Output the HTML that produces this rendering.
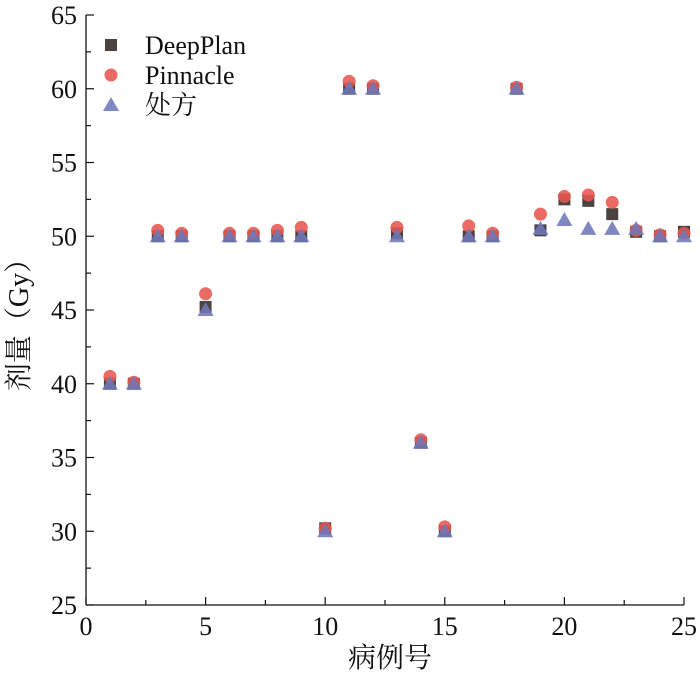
<!DOCTYPE html>
<html><head><meta charset="utf-8"><style>
body{margin:0;background:#fff;}
svg text{font-family:"Liberation Serif","Noto Serif CJK SC",serif;fill:#111;}
</style></head><body>
<svg id="chart" width="700" height="673" xmlns="http://www.w3.org/2000/svg">
<g id="axes"></g><g id="marks"></g><g id="legend"></g>
</svg>
<script>
const cases=[1,2,3,4,5,6,7,8,9,10,11,12,13,14,15,16,17,18,19,20,21,22,23,24,25];
const deepPlan=[40,40,50,50,45.2,50,50,50,50,30.2,60,60,50.2,36,30,50,50,60,50.4,52.5,52.4,51.5,50.3,50,50.3];
const pinnacle=[40.5,40.1,50.4,50.2,46.1,50.2,50.2,50.4,50.6,30.2,60.5,60.2,50.6,36.2,30.3,50.7,50.2,60.1,51.5,52.7,52.8,52.3,50.4,50.1,50.2];
const prescription=[40,40,50,50,45,50,50,50,50,30,60,60,50,36,30,50,50,60,50.5,51.1,50.5,50.5,50.5,50,50];
const xTicks=[0,5,10,15,20,25];
const yTicks=[25,30,35,40,45,50,55,60,65];
const X0=86,X1=684,Y0=605,Y1=15;
const sx=v=>X0+(v-0)/25*(X1-X0);
const sy=v=>Y0-(v-25)/40*(Y0-Y1);
const NS="http://www.w3.org/2000/svg";
function mk(p,tag,at){const e=document.createElementNS(NS,tag);for(const k in at)e.setAttribute(k,at[k]);p.appendChild(e);return e;}
const axes=document.getElementById('axes'),marks=document.getElementById('marks'),legend=document.getElementById('legend');
let a=mk(axes,'line',{x1:X0,y1:Y0,x2:X1,y2:Y0,stroke:'#111','stroke-width':1.3});


a=mk(axes,'line',{x1:X0,y1:Y0,x2:X0,y2:Y1,stroke:'#111','stroke-width':1.3});


for(let v=0;v<=25;v+=2.5){const maj=v%5===0;mk(axes,'line',{x1:sx(v),y1:Y0,x2:sx(v),y2:Y0-(maj?8:5),stroke:'#111','stroke-width':1.2});}
for(let v=25;v<=65;v+=2.5){const maj=v%5===0;mk(axes,'line',{x1:X0,y1:sy(v),x2:X0+(maj?8:5),y2:sy(v),stroke:'#111','stroke-width':1.2});}
xTicks.forEach(v=>{const t=mk(axes,'text',{x:sx(v),y:Y0+30,'text-anchor':'middle','font-size':26});t.textContent=v;

});
yTicks.forEach(v=>{const t=mk(axes,'text',{x:X0-9,y:sy(v)+9,'text-anchor':'end','font-size':26});t.textContent=v;

});
let t=mk(axes,'text',{x:(X0+X1)/2+5,y:667,'text-anchor':'middle','font-size':28});t.textContent='病例号';


t=mk(axes,'text',{x:0,y:0,'text-anchor':'middle','font-size':28,transform:'translate(28,318) rotate(-90)'});t.textContent='剂量（Gy）';


function sq(p,x,y){return mk(p,'rect',{x:x-6,y:y-6,width:12,height:12,fill:'#4a4340'});}
function ci(p,x,y){return mk(p,'circle',{cx:x,cy:y,r:6.5,fill:'#e8564e','fill-opacity':0.88});}
function tr(p,x,y){return mk(p,'polygon',{points:`${x},${y-8} ${x-8},${y+6} ${x+8},${y+6}`,fill:'#6f78b8','fill-opacity':0.88});}
cases.forEach((c,i)=>{const e=sq(marks,sx(c),sy(deepPlan[i]));

});
cases.forEach((c,i)=>{const e=ci(marks,sx(c),sy(pinnacle[i]));

});
cases.forEach((c,i)=>{const e=tr(marks,sx(c),sy(prescription[i]));

});
const legNames=['DeepPlan','Pinnacle','处方'];
const legFns=[sq,ci,tr];
legNames.forEach((n,i)=>{const y=45+i*30;const g=mk(legend,'g',{});


legFns[i](g,111,y);const tx=mk(g,'text',{x:145,y:y+9,'font-size':26});tx.textContent=n;});
</script>
</body></html>
